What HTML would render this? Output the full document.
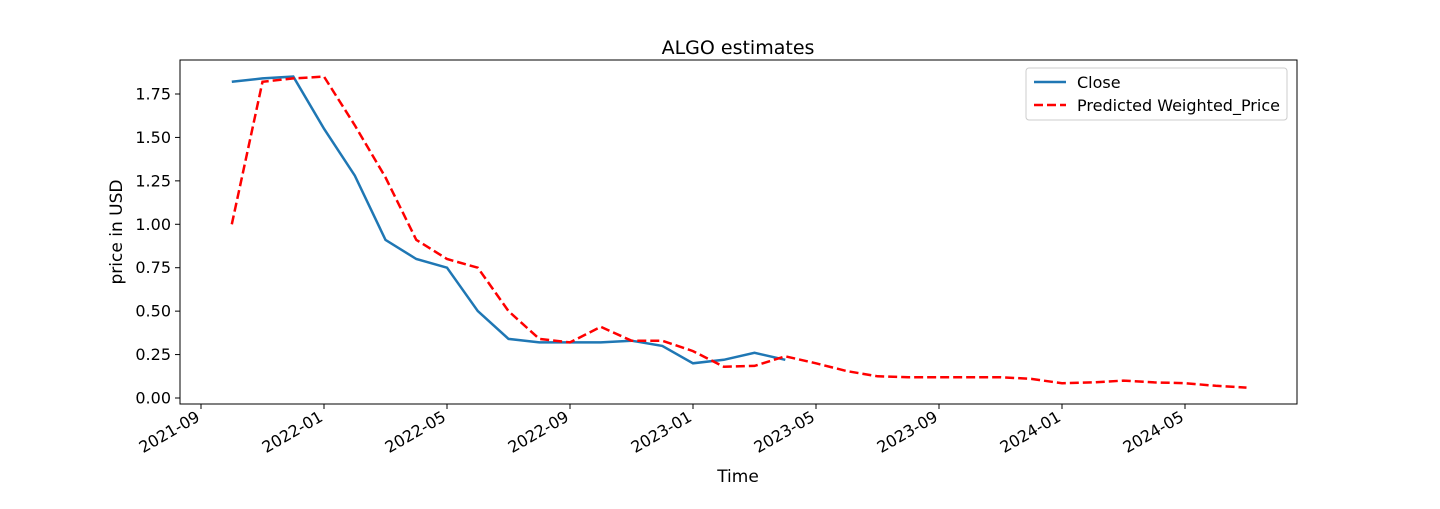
<!DOCTYPE html>
<html><head><meta charset="utf-8"><style>
body{margin:0;background:#fff;}
svg{font-family:"DejaVu Sans","Liberation Sans",sans-serif;}
</style></head><body>
<svg id="c" width="1440" height="504"></svg>
<script>
const xTickLabels=["2021-09","2022-01","2022-05","2022-09","2023-01","2023-05","2023-09","2024-01","2024-05"];
const xTickMonths=[0,4,8,12,16,20,24,28,32];
const yTicks=[0,0.25,0.5,0.75,1.0,1.25,1.5,1.75];
const closeMonths=[1,2,3,4,5,6,7,8,9,10,11,12,13,14,15,16,17,18,19];
const closeValues=[1.82,1.84,1.85,1.55,1.28,0.91,0.80,0.75,0.50,0.34,0.32,0.32,0.32,0.33,0.30,0.20,0.22,0.26,0.22];
const predMonths=[1,2,3,4,5,6,7,8,9,10,11,12,13,14,15,16,17,18,19,20,21,22,23,24,25,26,27,28,29,30,31,32,33,34];
const predValues=[1.00,1.82,1.84,1.85,1.57,1.27,0.91,0.80,0.75,0.50,0.34,0.32,0.41,0.33,0.33,0.27,0.18,0.185,0.24,0.20,0.155,0.125,0.12,0.12,0.12,0.12,0.11,0.085,0.09,0.10,0.09,0.085,0.07,0.06];
const NS="http://www.w3.org/2000/svg";
const svg=document.getElementById('c');
const L=180,R=1297,T=60,B=404;
const x=m=>201+m*30.75;
const y=v=>398-v*(304/1.75);
function el(t,a,txt){const e=document.createElementNS(NS,t);for(const k in a)e.setAttribute(k,a[k]);if(txt!==undefined)e.textContent=txt;svg.appendChild(e);return e;}
let e=el('rect',{x:L,y:T,width:R-L,height:B-T,fill:'none',stroke:'#000','stroke-width':1});


yTicks.forEach(v=>{
  let t=el('line',{x1:L-5,x2:L,y1:y(v),y2:y(v),stroke:'#000'});
  
  
  let l=el('text',{x:L-9,y:y(v)+5.5,'text-anchor':'end','font-size':16},v.toFixed(2));
  
  
});
xTickMonths.forEach((m,i)=>{
  let t=el('line',{x1:x(m),x2:x(m),y1:B,y2:B+5,stroke:'#000'});
  
  
  const lx=x(m), ly=B+16;
  let l=el('text',{x:lx,y:ly,'text-anchor':'end','font-size':16,transform:`rotate(-30 ${lx} ${ly})`},xTickLabels[i]);
  
  
});
function line(ms,vs,attrs,name){
  const d=ms.map((m,i)=>(i?'L':'M')+x(m).toFixed(1)+','+y(vs[i]).toFixed(1)).join(' ');
  let p=el('path',Object.assign({d,fill:'none','stroke-width':2.5},attrs));
  
  
}
line(closeMonths,closeValues,{stroke:'#1f77b4'},'close-line');
line(predMonths,predValues,{stroke:'#ff0000','stroke-dasharray':'9,4'},'predicted-line');
e=el('text',{x:738,y:54,'text-anchor':'middle','font-size':19},'ALGO estimates');


e=el('text',{x:738,y:482,'text-anchor':'middle','font-size':17},'Time');


e=el('text',{x:122,y:232,'text-anchor':'middle','font-size':17,transform:'rotate(-90 122 232)'},'price in USD');


e=el('rect',{x:1026,y:68,width:261,height:52,rx:3,fill:'#fff',stroke:'#ccc'});


e=el('line',{x1:1034,x2:1066,y1:82,y2:82,stroke:'#1f77b4','stroke-width':2.5});


e=el('text',{x:1077,y:88,'font-size':16},'Close');


e=el('line',{x1:1034,x2:1066,y1:105,y2:105,stroke:'#ff0000','stroke-width':2.5,'stroke-dasharray':'9,4'});


e=el('text',{x:1077,y:111,'font-size':16},'Predicted Weighted_Price');


</script>
</body></html>
